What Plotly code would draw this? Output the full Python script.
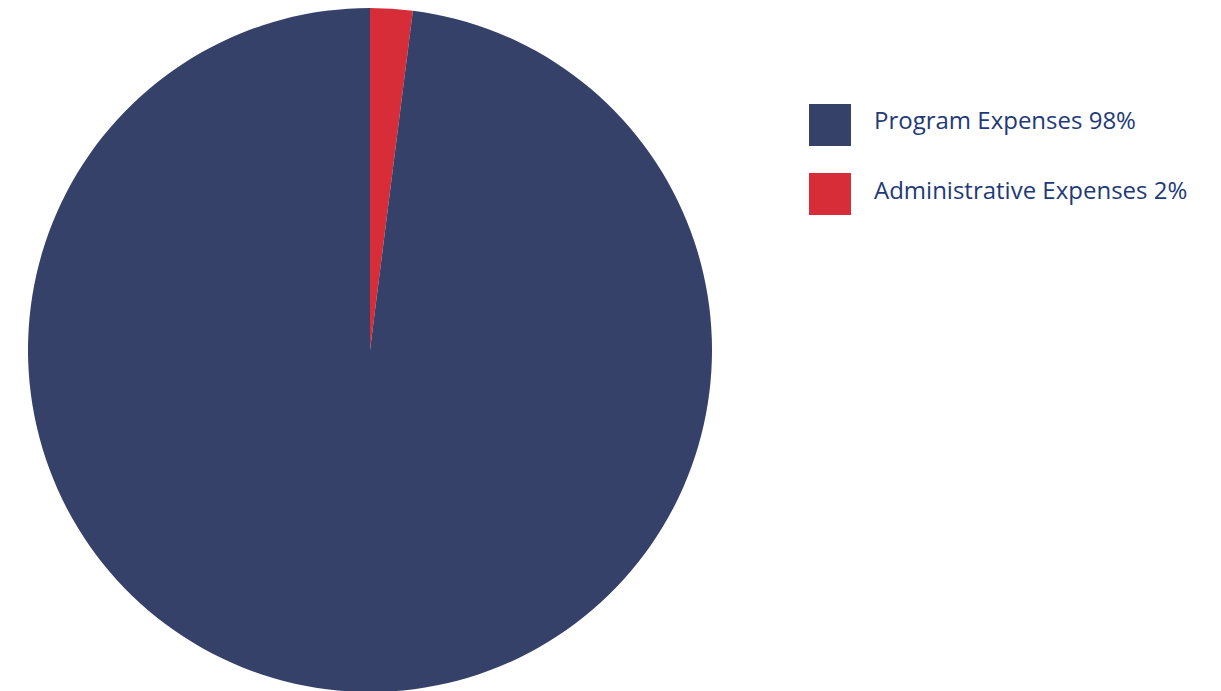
import plotly.graph_objects as go

labels = ["Program Expenses", "Administrative Expenses"]
values = [98, 2]
legend_texts = ["Program Expenses 98%", "Administrative Expenses 2%"]
colors = ["#354169", "#d62d38"]

W, H = 1221, 691
OFF = 8  # page body margin offset

# draw Administrative first so it starts at 12 o'clock going clockwise
order = [1, 0]
fig = go.Figure(go.Pie(
    labels=[labels[i] for i in order],
    values=[values[i] for i in order],
    sort=False,
    direction="clockwise",
    rotation=0,
    marker=dict(colors=[colors[i] for i in order], line=dict(width=0)),
    textinfo="none",
    hoverinfo="label+percent",
    showlegend=False,
    domain=dict(x=[20 / W, 704 / W], y=[1 - 684 / H, 1.0]),
))

# custom legend (large square swatches + text)
box_top = [104 - OFF, 173 - OFF]
for i, (txt, col) in enumerate(zip(legend_texts, colors)):
    y0 = box_top[i]
    fig.add_shape(type="rect", xref="paper", yref="paper",
                  x0=(809 - OFF) / W, x1=(851 - OFF) / W,
                  y0=1 - (y0 + 42) / H, y1=1 - y0 / H,
                  fillcolor=col, line=dict(width=0))
    fig.add_annotation(xref="paper", yref="paper",
                       x=(872 - OFF) / W, y=1 - (y0 + 16) / H,
                       xanchor="left", yanchor="middle",
                       text=txt, showarrow=False,
                       font=dict(family="Open Sans", size=24, color="#1f3a78"))

fig.update_layout(
    width=W, height=H,
    margin=dict(l=0, r=0, t=0, b=0),
    paper_bgcolor="white",
    plot_bgcolor="white",
)

fig.write_html("out.html")
